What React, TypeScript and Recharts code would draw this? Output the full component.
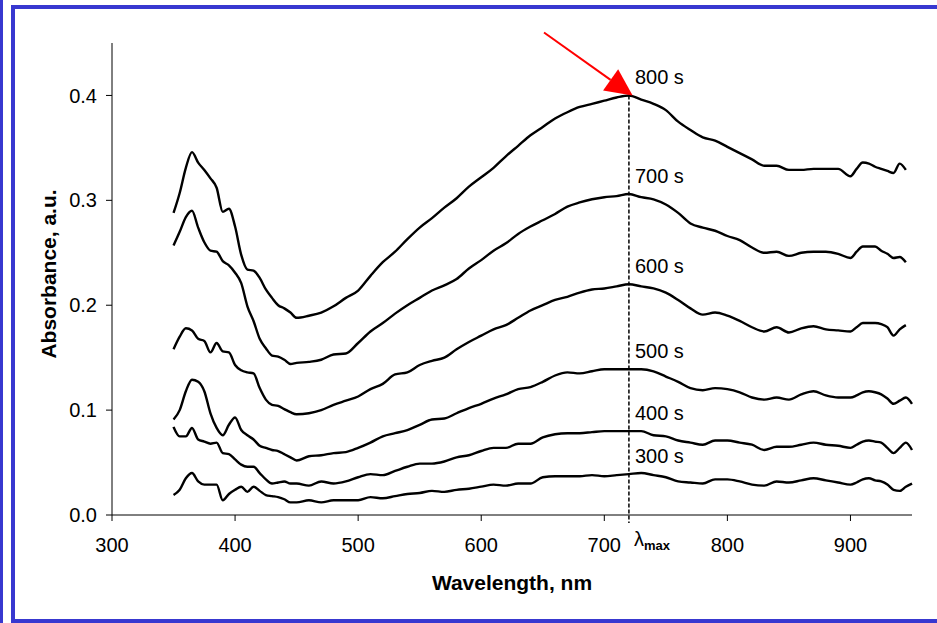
import React from 'react';
import { LineChart, Line, XAxis, YAxis, ReferenceLine } from 'recharts';

// wavelength grid, nm
const wavelength = [
  350, 355, 360, 365, 370, 375, 380, 385, 390, 395, 400, 405, 410, 415, 420, 425, 430, 435, 440, 445, 450,
  460, 470, 480, 490, 500, 510, 520, 530, 540, 550, 560, 570, 580, 590, 600, 610, 620, 630, 640, 650,
  660, 670, 680, 690, 700, 710, 720, 730, 740, 750, 760, 770, 780, 790, 800, 810, 820, 830, 840, 850,
  860, 870, 880, 890, 900,
  905, 910, 915, 920, 925, 930, 935, 940, 945, 950,
];

const abs800 = [
  0.288, 0.307, 0.331, 0.346, 0.336, 0.329, 0.321, 0.312, 0.289, 0.292, 0.275, 0.248, 0.234, 0.233, 0.226, 0.215, 0.207, 0.200, 0.197, 0.193, 0.188,
  0.190, 0.193, 0.199, 0.207, 0.214, 0.228, 0.241, 0.251, 0.263, 0.274, 0.283, 0.293, 0.302, 0.313, 0.322, 0.331, 0.342, 0.352, 0.362, 0.370,
  0.378, 0.384, 0.389, 0.392, 0.395, 0.398, 0.400, 0.396, 0.392, 0.386, 0.375, 0.367, 0.360, 0.357, 0.351, 0.345, 0.339, 0.333, 0.333, 0.329,
  0.329, 0.330, 0.330, 0.330, 0.323,
  0.330, 0.336, 0.335, 0.332, 0.330, 0.328, 0.326, 0.335, 0.329, null,
];
const abs700 = [
  0.257, 0.270, 0.284, 0.290, 0.274, 0.260, 0.252, 0.251, 0.242, 0.238, 0.231, 0.221, 0.199, 0.185, 0.168, 0.159, 0.152, 0.151, 0.148, 0.144, 0.145,
  0.146, 0.148, 0.153, 0.154, 0.164, 0.175, 0.183, 0.192, 0.200, 0.207, 0.214, 0.219, 0.225, 0.235, 0.243, 0.252, 0.259, 0.268, 0.275, 0.281,
  0.287, 0.294, 0.298, 0.301, 0.303, 0.304, 0.306, 0.303, 0.301, 0.296, 0.288, 0.278, 0.274, 0.271, 0.266, 0.262, 0.255, 0.250, 0.251, 0.247,
  0.250, 0.251, 0.251, 0.249, 0.245,
  0.251, 0.256, 0.256, 0.256, 0.252, 0.249, 0.245, 0.246, 0.241, null,
];
const abs600 = [
  0.158, 0.170, 0.178, 0.176, 0.168, 0.166, 0.155, 0.164, 0.156, 0.155, 0.143, 0.138, 0.136, 0.135, 0.121, 0.110, 0.105, 0.104, 0.101, 0.098, 0.096,
  0.097, 0.100, 0.105, 0.109, 0.113, 0.120, 0.125, 0.134, 0.136, 0.143, 0.147, 0.150, 0.158, 0.165, 0.171, 0.177, 0.181, 0.188, 0.195, 0.200,
  0.205, 0.208, 0.212, 0.215, 0.216, 0.218, 0.220, 0.218, 0.216, 0.212, 0.205, 0.197, 0.191, 0.193, 0.190, 0.185, 0.179, 0.175, 0.179, 0.174,
  0.178, 0.180, 0.177, 0.176, 0.175,
  0.179, 0.183, 0.183, 0.183, 0.182, 0.179, 0.171, 0.177, 0.181, null,
];
const abs500 = [
  0.091, 0.100, 0.118, 0.129, 0.127, 0.118, 0.097, 0.083, 0.076, 0.086, 0.093, 0.081, 0.076, 0.072, 0.066, 0.064, 0.062, 0.061, 0.058, 0.055, 0.052,
  0.056, 0.057, 0.059, 0.060, 0.064, 0.069, 0.075, 0.078, 0.081, 0.086, 0.091, 0.092, 0.097, 0.102, 0.106, 0.111, 0.115, 0.120, 0.122, 0.127,
  0.133, 0.136, 0.135, 0.137, 0.139, 0.139, 0.139, 0.139, 0.137, 0.132, 0.127, 0.121, 0.119, 0.121, 0.120, 0.117, 0.112, 0.110, 0.112, 0.110,
  0.115, 0.118, 0.114, 0.112, 0.112,
  0.114, 0.117, 0.118, 0.117, 0.115, 0.111, 0.106, 0.109, 0.112, 0.106,
];
const abs400 = [
  0.084, 0.075, 0.075, 0.083, 0.072, 0.070, 0.068, 0.069, 0.059, 0.058, 0.053, 0.048, 0.046, 0.046, 0.040, 0.034, 0.030, 0.031, 0.032, 0.030, 0.030,
  0.028, 0.032, 0.030, 0.032, 0.036, 0.039, 0.038, 0.042, 0.046, 0.049, 0.049, 0.051, 0.055, 0.057, 0.061, 0.064, 0.064, 0.068, 0.068, 0.074,
  0.077, 0.078, 0.078, 0.079, 0.080, 0.080, 0.080, 0.080, 0.076, 0.075, 0.071, 0.069, 0.067, 0.071, 0.071, 0.069, 0.067, 0.062, 0.065, 0.065,
  0.067, 0.069, 0.067, 0.066, 0.064,
  0.067, 0.070, 0.071, 0.070, 0.069, 0.064, 0.059, 0.064, 0.069, 0.062,
];
const abs300 = [
  0.019, 0.024, 0.035, 0.040, 0.032, 0.029, 0.029, 0.029, 0.014, 0.020, 0.024, 0.027, 0.022, 0.027, 0.023, 0.019, 0.018, 0.017, 0.015, 0.012, 0.012,
  0.014, 0.012, 0.014, 0.014, 0.014, 0.017, 0.016, 0.018, 0.020, 0.021, 0.023, 0.022, 0.024, 0.025, 0.027, 0.029, 0.028, 0.030, 0.030, 0.036,
  0.037, 0.037, 0.037, 0.038, 0.037, 0.038, 0.039, 0.040, 0.038, 0.036, 0.032, 0.031, 0.030, 0.034, 0.034, 0.032, 0.029, 0.028, 0.032, 0.031,
  0.033, 0.035, 0.033, 0.031, 0.029,
  0.031, 0.034, 0.035, 0.033, 0.032, 0.029, 0.024, 0.023, 0.027, 0.030,
];

const seriesNames = ['800 s', '700 s', '600 s', '500 s', '400 s', '300 s'];
const seriesValues = [abs800, abs700, abs600, abs500, abs400, abs300];

const xTicks = [300, 400, 500, 600, 700, 800, 900];
const yTicks = [0, 0.1, 0.2, 0.3, 0.4];
const lambdaMax = 720;
const arrowFrom = { x: 651, y: 0.46 };
const arrowTo = { x: 723, y: 0.4 };

const data = wavelength.map((w, i) => {
  const row: Record<string, number | null> = { wavelength: w };
  seriesValues.forEach((vals, k) => {
    row['s' + k] = vals[i];
  });
  return row;
});

const labelIndex = wavelength.indexOf(lambdaMax);
const font = '"Liberation Sans", Arial, sans-serif';
const frameBlue = '#3838D0';

const ArrowShape = (props: any) => {
  const { x1, y1, x2, y2 } = props;
  const dx = x2 - x1;
  const dy = y2 - y1;
  const len = Math.sqrt(dx * dx + dy * dy);
  const ux = dx / len;
  const uy = dy / len;
  const headLen = 27;
  const headHalf = 13;
  const bx = x2 - ux * headLen;
  const by = y2 - uy * headLen;
  return (
    <g>
      <line x1={x1} y1={y1} x2={bx} y2={by} stroke="#ff0000" strokeWidth={2} />
      <polygon
        points={`${x2},${y2} ${bx - uy * headHalf},${by + ux * headHalf} ${bx + uy * headHalf},${by - ux * headHalf}`}
        fill="#ff0000"
      />
    </g>
  );
};

const LambdaLine = (props: any) => {
  const { x1, y1, x2, y2 } = props;
  return (
    <g>
      <line x1={x1} y1={y1} x2={x2} y2={y2 + 8} stroke="#000" strokeWidth={1.5} strokeDasharray="4 2" />
      <text x={x2 + 5} y={y2 + 31} fontFamily={font} fill="#000">
        <tspan fontSize={20}>λ</tspan>
        <tspan fontSize={13} fontWeight="bold" dy={4}>max</tspan>
      </text>
    </g>
  );
};

const bar = (style: React.CSSProperties) => (
  <div style={{ position: 'absolute', background: frameBlue, ...style }} />
);

export default function App() {
  return (
    <div style={{ position: 'absolute', left: 0, top: 0, width: 937, height: 623, background: '#fff', overflow: 'hidden' }}>
      {bar({ left: 0, top: 0, width: 3, height: 623 })}
      {bar({ left: 11, top: 5, width: 4, height: 618 })}
      {bar({ left: 11, top: 5, width: 926, height: 4 })}
      {bar({ left: 11, top: 619, width: 926, height: 4 })}
      <div style={{ position: 'absolute', left: 0, top: 0 }}>
        <LineChart
          width={937}
          height={623}
          data={data}
          accessibilityLayer={false}
          margin={{ top: 43, right: 25, bottom: 28, left: 42 }}
        >
          <XAxis
            dataKey="wavelength"
            type="number"
            domain={[300, 950]}
            ticks={xTicks}
            height={80}
            stroke="#000"
            tickSize={6}
            tickMargin={17}
            tick={{ fill: '#000', fontSize: 20, fontFamily: font }}
            label={{
              value: 'Wavelength, nm',
              position: 'insideBottom',
              offset: 5,
              style: { fill: '#000', fontSize: 21, fontWeight: 'bold', fontFamily: font },
            }}
          />
          <YAxis
            type="number"
            domain={[0, 0.45]}
            ticks={yTicks}
            width={70}
            stroke="#000"
            tickSize={6}
            tickMargin={9}
            tickFormatter={(v: number) => v.toFixed(1)}
            tick={{ fill: '#000', fontSize: 20, fontFamily: font }}
            label={{
              content: (p: any) => {
                const vb = p.viewBox;
                const cx = vb.x + 14;
                const cy = vb.y + vb.height / 2 - 5;
                return (
                  <text
                    x={cx}
                    y={cy}
                    transform={`rotate(-90 ${cx} ${cy})`}
                    textAnchor="middle"
                    fill="#000"
                    fontSize={21}
                    fontWeight="bold"
                    fontFamily={font}
                  >
                    Absorbance, a.u.
                  </text>
                );
              },
            }}
          />
          {seriesNames.map((name, k) => (
            <Line
              key={name}
              dataKey={'s' + k}
              type="monotone"
              stroke="#000"
              strokeWidth={2.4}
              isAnimationActive={false}
              activeDot={false}
              dot={(p: any) =>
                p.index === labelIndex ? (
                  <text key={p.index} x={p.cx + 6} y={p.cy - 11} fontSize={20} fontFamily={font} fill="#000">
                    {name}
                  </text>
                ) : (
                  <g key={p.index} />
                )
              }
            />
          ))}
          <ReferenceLine
            segment={[
              { x: lambdaMax, y: abs800[labelIndex] as number },
              { x: lambdaMax, y: 0 },
            ]}
            shape={LambdaLine}
          />
          <ReferenceLine segment={[arrowFrom, arrowTo]} ifOverflow="visible" shape={ArrowShape} />
        </LineChart>
      </div>
    </div>
  );
}
